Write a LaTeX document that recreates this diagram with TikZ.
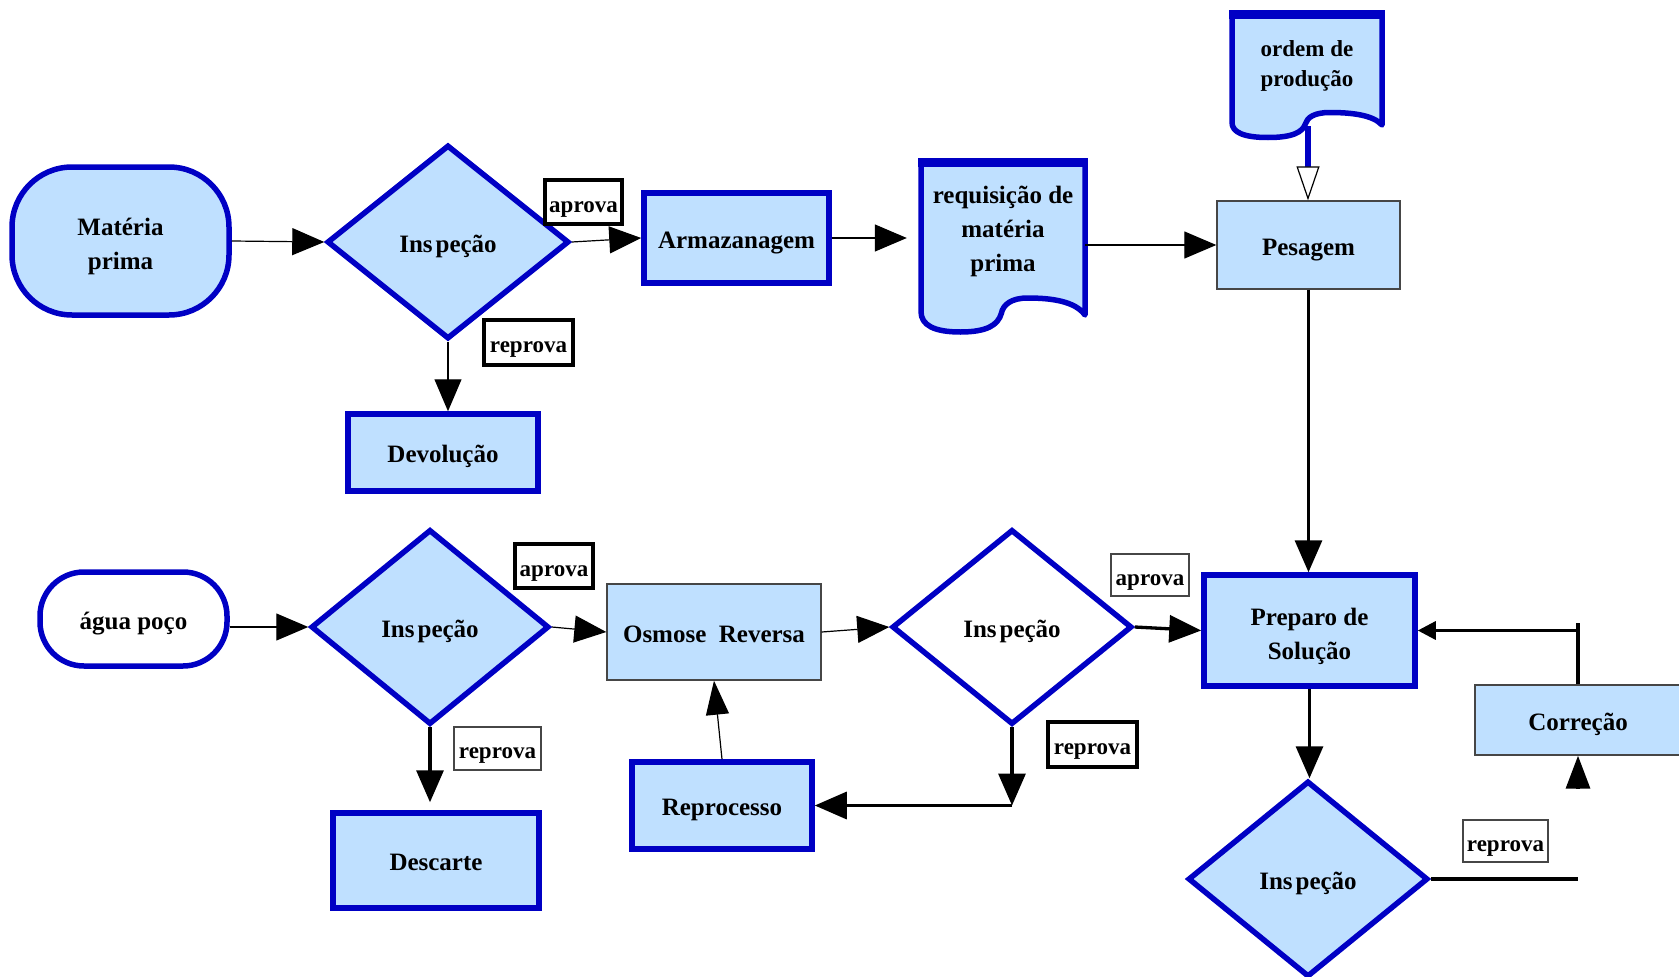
\documentclass[tikz,border=0pt]{standalone}
\usepackage{fontspec}
\setmainfont{Liberation Serif}
\usetikzlibrary{arrows.meta,shapes.geometric,calc}

\definecolor{boxfill}{RGB}{191,224,255}
\definecolor{boxedge}{RGB}{0,0,196}
\definecolor{thinedge}{RGB}{70,70,70}

\newcommand{\chartfont}{\fontsize{25}{34}\selectfont\bfseries}
\newcommand{\chartsmallfont}{\fontsize{23}{28}\selectfont\bfseries}
\newcommand{\docfont}{\fontsize{23}{30}\selectfont\bfseries}
\newcommand{\insp}{Ins\kern3pt peção}
% fixed first-line height and last-line depth, so every label sits on the same baseline
\newcommand{\toprule}[1]{\rule{0pt}{#1}}
\newcommand{\footrule}[1]{\rule[-#1]{0pt}{#1}}

% document sheet: left x, top y, right x, foot y of the left edge, wave height
\newcommand{\docsheet}[5]{%
  \pgfmathsetmacro\dw{#3-#1}%
  \draw[docline]
    (#1,#2) -- (#3,#2) -- (#3,#4)
    .. controls ({#3-0.06*\dw},{#4-0.8*#5}) and ({#1+0.8*\dw},{#4-#5}) .. ({#1+0.65*\dw},{#4-#5})
    .. controls ({#1+0.55*\dw},{#4-#5}) and ({#1+0.5*\dw},{#4-0.6*#5}) .. ({#1+0.49*\dw},{#4-0.1*#5})
    .. controls ({#1+0.47*\dw},{#4+0.6*#5}) and ({#1+0.4*\dw},{#4+#5}) .. ({#1+0.24*\dw},{#4+#5})
    .. controls ({#1+0.08*\dw},{#4+#5}) and (#1,{#4+0.6*#5}) .. (#1,{#4-0.2*#5})
    -- cycle;
  \fill[boxedge] ({#1-2.75},{#2-2.75}) rectangle ({#3+2.75},{#2+6});
}

\begin{document}
\begin{tikzpicture}[x=1pt,y=-1pt,
  every node/.style={font=\chartfont, align=center,
    execute at begin node={\toprule{27pt}}, execute at end node={\footrule{7pt}}},
  flowbox/.style={rectangle, draw=boxedge, line width=5.5pt, fill=boxfill, inner sep=0pt},
  plainbox/.style={rectangle, draw=thinedge, line width=1.4pt, fill=boxfill, inner sep=0pt},
  terminal/.style={rectangle, rounded corners=60pt, draw=boxedge, line width=5.5pt, fill=boxfill, inner sep=0pt},
  decision/.style={diamond, draw=boxedge, line width=5.5pt, fill=boxfill, inner sep=0pt},
  tagbold/.style={rectangle, draw=black, line width=3.5pt, fill=white, font=\chartsmallfont, inner sep=0pt,
    execute at begin node={\toprule{24pt}}, execute at end node={\footrule{6pt}}},
  tagthin/.style={tagbold, draw=thinedge, line width=1.3pt},
  flowthin/.style={draw=black, line width=1.2pt, -{Triangle[length=32pt,width=27pt]}},
  flowthick/.style={draw=black, line width=3.3pt, -{Triangle[length=32pt,width=27pt]}},
  plainthick/.style={draw=black, line width=3.3pt},
  docline/.style={draw=boxedge, line width=5.5pt, fill=boxfill, line join=round},
]
\useasboundingbox (0,0) rectangle (1679,977);

% paper documents
\docsheet{921}{161}{1085}{315}{17}
\docsheet{1232}{13}{1382}{125}{12.5}

% upper line: raw material
\node[terminal, minimum width=217pt, minimum height=148pt] (mat) at (120.5,241) {\toprule{30pt}Matéria\\prima};
\node[decision, minimum width=242pt, minimum height=194pt] (d1) at (448,242) {\insp};
\node[flowbox, minimum width=185pt, minimum height=90pt] (arm) at (736.5,238) {Armazanagem};
\node[minimum width=164pt, inner sep=0pt] (req) at (1003,232) {requisição de\\matéria\\prima};
\node[minimum width=150pt, inner sep=0pt, font=\docfont] (ordem) at (1307,67) {ordem de\\produção};
\node[plainbox, minimum width=183pt, minimum height=88pt] (pes) at (1308.5,245) {Pesagem};
\node[flowbox, minimum width=190pt, minimum height=77pt] (dev) at (443,452.5) {Devolução};

% lower line: water
\node[terminal, rounded corners=44pt, fill=white, minimum width=187pt, minimum height=94pt] (agua) at (133.5,619) {água poço};
\node[decision, minimum width=238pt, minimum height=195pt] (d2) at (430,627) {\insp};
\node[plainbox, minimum width=214pt, minimum height=96pt] (osm) at (714,632) {Osmose~~Reversa};
\node[decision, fill=white, minimum width=240pt, minimum height=195pt] (d3) at (1012,627) {\insp};
\node[flowbox, minimum width=211pt, minimum height=111pt] (prep) at (1309.5,630.5) {\toprule{30pt}Preparo de\\Solução};
\node[flowbox, minimum width=180pt, minimum height=87pt] (rep) at (722,805.5) {Reprocesso};
\node[flowbox, minimum width=206pt, minimum height=95pt] (desc) at (436,860.5) {Descarte};
\node[decision, minimum width=240pt, minimum height=196pt] (d4) at (1308,879) {\insp};
\node[plainbox, minimum width=206pt, minimum height=70pt] (corr) at (1578,720) {Correção};

% branch labels
\node[tagbold, minimum width=77pt, minimum height=44pt] (t1) at (583.5,202) {aprova};
\node[tagbold, minimum width=89pt, minimum height=45pt] (t2) at (528.5,342.5) {reprova};
\node[tagbold, minimum width=78pt, minimum height=44pt] (t3) at (554,566) {aprova};
\node[tagthin, minimum width=87pt, minimum height=43pt] (t4) at (497.5,748.5) {reprova};
\node[tagthin, minimum width=78pt, minimum height=42pt] (t5) at (1150,575) {aprova};
\node[tagbold, minimum width=89pt, minimum height=45pt] (t6) at (1092.5,744.5) {reprova};
\node[tagthin, minimum width=85pt, minimum height=42pt] (t7) at (1505.5,841) {reprova};

% connectors, upper line
\draw[flowthin] (mat.east) -- (d1.west);
\draw[flowthin] (d1.east) -- (arm.west);
\draw[flowthin, shorten >=14pt] (arm.east) -- (arm.east -| req.west);
\draw[flowthin] (pes.west -| req.east) -- (pes.west);
\coordinate (ordemfoot) at (1308,126);
\draw[draw=boxedge, line width=6pt,
  -{Triangle[length=34pt,width=23pt,color=black,fill=white,line width=1.2pt]}]
  (ordemfoot) -- (ordemfoot |- pes.north);
\draw[flowthick] (pes.south) -- (pes.south |- prep.north);
\draw[flowthin] (d1.south) -- (d1.south |- dev.north);

% connectors, lower line
\draw[flowthin] (d2.west -| agua.east) -- (d2.west);
\draw[flowthin] (d2.east) -- (osm.west);
\draw[flowthin] (osm.east) -- (d3.west);
\draw[flowthick] (d3.east) -- (prep.west);
\coordinate (turn) at (d3.south |- rep.east);
\draw[flowthick] (d3.south) -- (turn);
\draw[flowthick] (turn) -- (rep.east);
\draw[flowthin, -{Triangle[length=34pt,width=23pt]}] (rep.north) -- (osm.south);
\draw[flowthick, shorten >=8pt] (d2.south) -- (d2.south |- desc.north);
\draw[flowthick] (prep.south) -- (prep.south |- d4.north);

% correction loop
\coordinate (rejend) at (corr.south |- d4.east);
\draw[plainthick] (d4.east) -- (rejend);
\coordinate (corrfoot) at ($(corr.south)+(0,33)$);
\draw[flowthick, -{Triangle[length=33pt,width=24pt]}] (corrfoot) -- (corr.south);
\coordinate (corrtop) at ($(corr.north)+(0,-61)$);
\draw[plainthick] (corr.north) -- (corrtop);
\draw[plainthick, -{Triangle[length=18pt,width=18pt]}] (corr.north |- prep.east) -- (prep.east);
\end{tikzpicture}
\end{document}
